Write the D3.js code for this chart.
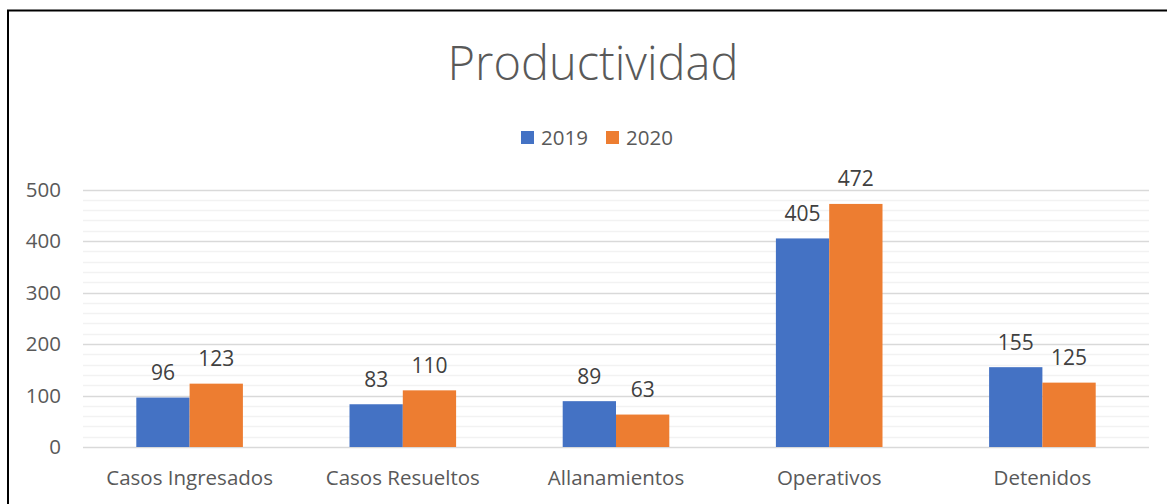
<!DOCTYPE html>
<html>
<head>
<meta charset="utf-8">
<script src="https://cdn.jsdelivr.net/npm/d3@7"></script>
<style>
  html, body { margin: 0; padding: 0; background: #fff; }
  svg { display: block; font-family: 'Open Sans', sans-serif; }
</style>
</head>
<body>
<div id="chart"></div>
<script>
  // Chart data
  const categories = ['Casos Ingresados', 'Casos Resueltos', 'Allanamientos', 'Operativos', 'Detenidos'];
  const seriesNames = ['2019', '2020'];
  const values2019 = [96, 83, 89, 405, 155];
  const values2020 = [123, 110, 63, 472, 125];
  const yTicks = [0, 100, 200, 300, 400, 500];
  const colors = ['#4472C4', '#ED7D31'];

  const width = 1167;
  const height = 504;
  const margin = { left: 83, right: 18, top: 189.5, bottom: 57 };

  const svg = d3.select('#chart')
    .append('svg')
    .attr('width', width)
    .attr('height', height);

  // Frame (only left and top edges are visible in the crop)
  svg.append('path')
    .attr('d', 'M8,' + height + 'V10.5H' + width)
    .attr('fill', 'none')
    .attr('stroke', '#000')
    .attr('stroke-width', 2);

  const x0 = d3.scaleBand()
    .domain(categories)
    .range([margin.left, width - margin.right])
    .paddingInner(0.5)
    .paddingOuter(0.25);

  const x1 = d3.scaleBand()
    .domain(seriesNames)
    .range([0, x0.bandwidth()]);

  const y = d3.scaleLinear()
    .domain([0, 500])
    .range([height - margin.bottom, margin.top]);

  // Minor gridlines every 20
  svg.append('g')
    .selectAll('line')
    .data(d3.range(20, 500, 20).filter(function(v) { return v % 100 !== 0; }))
    .enter()
    .append('line')
    .attr('x1', margin.left)
    .attr('x2', width - margin.right)
    .attr('y1', function(d) { return Math.round(y(d)) + 0.5; })
    .attr('y2', function(d) { return Math.round(y(d)) + 0.5; })
    .attr('stroke', '#f2f2f2')
    .attr('stroke-width', 1.5);

  // Major gridlines
  svg.append('g')
    .selectAll('line')
    .data(yTicks)
    .enter()
    .append('line')
    .attr('x1', margin.left)
    .attr('x2', width - margin.right)
    .attr('y1', function(d) { return Math.round(y(d)) + 0.5; })
    .attr('y2', function(d) { return Math.round(y(d)) + 0.5; })
    .attr('stroke', '#d9d9d9')
    .attr('stroke-width', 1.5);

  // Y axis labels
  const yAxis = d3.axisLeft(y).tickValues(yTicks).tickSize(0).tickPadding(0);
  svg.append('g')
    .attr('transform', 'translate(61,0)')
    .call(yAxis)
    .call(function(g) { g.select('.domain').remove(); })
    .selectAll('text')
    .attr('font-family', "'Open Sans', sans-serif")
    .attr('font-size', 20.5)
    .attr('fill', '#595959');

  // Bars
  const series = [values2019, values2020];
  const groups = svg.append('g')
    .selectAll('g')
    .data(categories)
    .enter()
    .append('g')
    .attr('transform', function(d) { return 'translate(' + x0(d) + ',0)'; });

  groups.selectAll('rect')
    .data(function(d, i) {
      return seriesNames.map(function(s, j) { return { s: s, v: series[j][i], j: j }; });
    })
    .enter()
    .append('rect')
    .attr('x', function(d) { return x1(d.s); })
    .attr('width', x1.bandwidth())
    .attr('y', function(d) { return y(d.v); })
    .attr('height', function(d) { return y(0) - y(d.v); })
    .attr('fill', function(d) { return colors[d.j]; });

  // Data labels
  groups.selectAll('text')
    .data(function(d, i) {
      return seriesNames.map(function(s, j) { return { s: s, v: series[j][i], j: j }; });
    })
    .enter()
    .append('text')
    .attr('x', function(d) { return x1(d.s) + x1.bandwidth() / 2; })
    .attr('y', function(d) { return y(d.v) - 17.5; })
    .attr('text-anchor', 'middle')
    .attr('font-size', 21)
    .attr('fill', '#404040')
    .text(function(d) { return d.v; });

  // X axis labels
  const xAxis = d3.axisBottom(x0).tickSize(0).tickPadding(0);
  svg.append('g')
    .attr('transform', 'translate(0,485)')
    .call(xAxis)
    .call(function(g) { g.select('.domain').remove(); })
    .selectAll('text')
    .attr('dy', 0)
    .attr('font-family', "'Open Sans', sans-serif")
    .attr('font-size', 20.5)
    .attr('fill', '#595959');

  // Title
  svg.append('text')
    .attr('x', 593)
    .attr('y', 80)
    .attr('text-anchor', 'middle')
    .attr('font-size', 47)
    .attr('font-weight', 300)
    .attr('fill', '#595959')
    .text('Productividad');

  // Legend
  const legend = svg.append('g');
  const legendX = [521, 606];
  seriesNames.forEach(function(name, i) {
    legend.append('rect')
      .attr('x', legendX[i])
      .attr('y', 131)
      .attr('width', 13)
      .attr('height', 13)
      .attr('fill', colors[i]);
    legend.append('text')
      .attr('x', legendX[i] + 20)
      .attr('y', 145)
      .attr('font-size', 20.5)
      .attr('fill', '#595959')
      .text(name);
  });
</script>
</body>
</html>
